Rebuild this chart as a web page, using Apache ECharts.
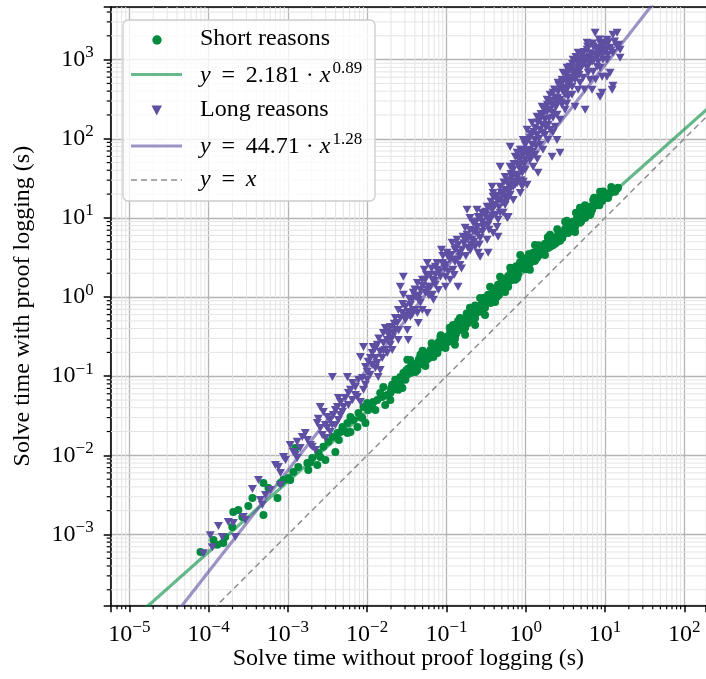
<!DOCTYPE html>
<html>
<head>
<meta charset="utf-8">
<script src="https://cdn.jsdelivr.net/npm/echarts@6/dist/echarts.min.js"></script>
<style>
  html, body { margin: 0; padding: 0; background: #ffffff; }
  #chart { width: 706px; height: 679px; }
</style>
</head>
<body>
<div id="chart"></div>
<script>
// Solve time with vs. without proof logging, in seconds: [without, with]
const shortReasons = [
  [7.9e-5,6.0e-4],[1.15e-4,8.5e-4],[1.29e-4,7.4e-4],[1.53e-4,7.8e-4],[1.62e-4,9.3e-4],[1.99e-4,1.24e-3],[2.05e-4,1.92e-3],[2.37e-4,2.04e-3],[2.66e-4,1.66e-3],[3.17e-4,2.29e-3],
  [3.57e-4,2.89e-3],[4.92e-4,4.47e-3],[4.92e-4,1.76e-3],[5.69e-4,3.87e-3],[7.39e-4,2.89e-3],[8.07e-4,4.47e-3],[8.81e-4,4.88e-3],[1.01e-3,5.18e-3],[1.07e-3,4.88e-3],[1.17e-3,6.17e-3],
  [1.24e-3,1.24e-2],[1.35e-3,7.14e-3],[1.76e-3,8.0e-3],[1.81e-3,6.54e-3],[1.92e-3,8.1e-3],[2.03e-3,9.26e-3],[2.35e-3,7.57e-3],[2.42e-3,1.07e-2],[2.56e-3,9.5e-3],[2.80e-3,1.28e-2],
  [2.97e-3,8.76e-3],[3.24e-3,1.48e-2],[3.64e-3,1.71e-2],[3.97e-3,1.10e-2],[4.21e-3,1.92e-2],[4.4e-3,1.56e-2],[4.59e-3,1.97e-2],[4.88e-3,2.28e-2],[5.16e-3,2.03e-2],[5.64e-3,2.56e-2],
  [5.64e-3,1.92e-2],[6.15e-3,3.06e-2],[6.15e-3,1.97e-2],[6.72e-3,2.80e-2],[7.54e-3,2.28e-2],[7.77e-3,3.43e-2],[8.22e-3,3.06e-2],[8.69e-3,2.97e-2],[8.99e-3,4.09e-2],[9.52e-3,2.56e-2],
  [1.0e-2,4.59e-2],[1.03e-2,3.74e-2],[1.16e-2,3.97e-2],[1.19e-2,4.72e-2],[1.27e-2,3.74e-2],[1.34e-2,5.0e-2],[1.46e-2,6.15e-2],[1.55e-2,5.47e-2],[1.60e-2,7.3e-2],[1.69e-2,4.33e-2],
  [1.79e-2,5.79e-2],[1.96e-2,6.15e-2],[2.07e-2,7.77e-2],[2.14e-2,6.72e-2],[2.26e-2,8.99e-2],[2.40e-2,8.22e-2],[2.47e-2,6.72e-2],[2.62e-2,9.78e-2],[2.78e-2,7.1e-2],[2.86e-2,0.110],
  [3.03e-2,8.99e-2],[3.21e-2,0.161],[3.21e-2,0.104],[3.51e-2,0.110],[3.71e-2,0.135],[3.82e-2,0.117],[4.05e-2,0.113],[4.30e-2,0.120],[4.42e-2,0.152],[4.69e-2,0.147],
  [4.97e-2,0.170],[5.12e-2,0.161],[5.42e-2,0.135],[5.75e-2,0.197],[5.93e-2,0.170],[6.28e-2,0.215],[6.66e-2,0.241],[6.85e-2,0.175],[7.26e-2,0.215],[7.70e-2,0.197],
  [7.93e-2,0.249],[8.41e-2,0.234],[8.91e-2,0.287],[9.17e-2,0.263],[9.72e-2,0.227],[0.102,0.314],[0.105,0.271],[0.111,0.352],[0.118,0.323],[0.121,0.444],
  [0.128,0.296],[0.136,0.373],[0.140,0.432],[0.148,0.384],[0.157,0.485],[0.162,0.514],[0.172,0.407],[0.182,0.545],[0.187,0.471],[0.198,0.514],
  [0.210,0.649],[0.223,0.578],[0.230,0.545],[0.243,0.751],[0.251,0.649],[0.266,0.708],[0.281,0.845],[0.298,0.773],[0.307,0.730],[0.326,0.922],
  [0.336,1.07],[0.355,0.975],[0.377,0.922],[0.388,1.23],[0.411,1.16],[0.435,1.01],[0.448,1.43],[0.475,1.35],[0.504,1.23],[0.519,1.65],
  [0.550,1.47],[0.584,1.51],[0.601,1.85],[0.637,1.80],[0.675,1.65],[0.696,2.02],[0.737,2.34],[0.781,2.21],[0.801,1.91],[0.853,2.70],
  [0.904,2.48],[0.931,2.34],[0.987,2.95],[1.04,2.95],[1.07,2.55],[1.13,2.70],[1.20,3.41],[1.24,3.62],[1.31,2.95],[1.39,3.13],
  [1.43,3.95],[1.51,3.62],[1.61,4.44],[1.65,3.72],[1.75,4.70],[1.86,4.84],[1.91,4.18],[2.03,4.31],[2.15,5.28],[2.27,5.59],
  [2.35,4.70],[2.48,4.98],[2.56,6.11],[2.71,6.47],[2.87,5.59],[2.96,6.11],[3.14,7.26],[3.32,7.70],[3.42,6.47],[3.62,7.06],
  [3.84,8.42],[3.96,8.92],[4.19,7.70],[4.45,10.3],[4.58,8.92],[4.84,8.66],[5.14,10.6],[5.30,11.6],[5.62,10.0],[5.95,12.7],
  [6.13,11.3],[6.48,13.8],[6.87,12.7],[7.09,16.9],[7.51,14.6],[7.95,15.5],[8.19,17.4],[8.67,18.5],[9.20,16.4],[9.45,19.0],
  [10.0,20.2],[10.6,19.6],[10.9,17.9],[11.6,20.7],[12.3,22.0],[12.6,22.6],[13.4,21.4],[14.6,24.0],
  [0.128,0.249],[0.172,0.333],[0.230,0.444],[0.307,0.595],[0.411,0.867],[0.550,1.16],[0.737,1.65],[1.13,2.21],[1.75,3.41],[2.71,5.13],
  [4.19,6.66],[6.48,10.9],[0.148,0.545],[0.198,0.730],[0.266,0.975],[0.355,1.35],[0.475,1.80],[0.637,2.34],[0.853,3.41],[1.31,4.56],
  [2.03,6.11],[3.14,8.92],[4.84,13.4],[8.67,21.4],[8.41e-2,0.314],[4.69e-2,0.186],[2.62e-2,7.77e-2],[1.96e-2,5.0e-2],
  [3.3e-2,0.125],[3.6e-2,0.148],[3.9e-2,0.131],[4.2e-2,0.140],[4.5e-2,0.165],[4.8e-2,0.150],[5.3e-2,0.182],[5.6e-2,0.160],[6.0e-2,0.190],[6.4e-2,0.180],
  [7.0e-2,0.232],[7.4e-2,0.205],[8.0e-2,0.270],[8.6e-2,0.250],[9.4e-2,0.300],[0.099,0.280],[0.108,0.330],[0.115,0.300],[0.124,0.370],[0.132,0.345],
  [0.144,0.410],[0.153,0.440],[0.166,0.470],[0.177,0.450],[0.193,0.560],[0.204,0.540],[0.216,0.600],[0.236,0.640],[0.257,0.700],[0.273,0.760],
  [0.290,0.810],[0.316,0.850],[0.345,0.960],[0.366,1.08],[0.400,1.08],[0.423,1.30],[0.461,1.25],[0.490,1.52],[0.530,1.40],[0.565,1.70],
  [0.620,1.62],[0.656,2.00],[0.716,1.92],[0.760,2.45],[0.826,2.25],[0.880,2.75],[0.958,2.60],[1.01,3.10],[1.10,2.92],[1.16,3.35],
  [1.27,3.25],[1.35,3.75],[1.47,3.40],[1.56,4.10],[1.70,4.05],[1.80,4.45],[1.97,4.75],[2.09,4.90],[2.21,5.10],[2.42,5.40],
  [2.63,5.75],[2.79,6.30],[3.05,6.60],[3.23,7.40],[3.52,7.40],[3.73,8.00],[4.07,8.40],[4.32,9.30],[4.71,9.50],[5.0,10.1],
  [5.46,11.0],[5.78,11.6],[6.30,12.2],[6.68,13.3],[7.30,14.2],[7.73,15.0],[8.43,16.0],[8.93,17.2],[9.73,18.0],[10.3,19.0],
  [11.2,20.4],[11.9,21.2],[13.0,22.2],[14.0,23.0],[2.0e-2,7.0e-2],[2.3e-2,7.5e-2],[2.5e-2,8.8e-2],[2.7e-2,9.2e-2],[2.9e-2,0.098],[3.1e-2,0.118],
  [0.03,0.095],[0.045,0.14],[0.06,0.17],[0.08,0.225],[0.1,0.27],[0.13,0.335],[0.17,0.415],[0.22,0.53],[0.28,0.65],[0.36,0.84],
  [0.46,1.06],[0.6,1.35],[0.78,1.74],[1.0,2.25],[1.3,2.85],[1.7,3.6],[2.2,4.5],[2.9,5.6],[3.8,7.0],[5.0,9.0],
  [6.6,11.4],[8.5,14.5],[11.0,18.5],
  [0.035,0.16],[0.05,0.21],[0.065,0.26],[0.085,0.33],[0.11,0.41],[0.14,0.5],[0.18,0.62],[0.23,0.78],[0.3,0.98],[0.39,1.25],
  [0.5,1.6],[0.65,2.1],[0.85,2.75],[1.1,3.5],[1.45,4.5],[1.9,5.7],[2.5,7.2],[3.3,9.2],[4.3,11.6],[5.6,14.5],
  [7.3,18.0],[9.5,21.5],[12.0,24.5]
];

const longReasons = [
  [8.6e-5,5.8e-4],[1.05e-4,9.8e-4],[1.11e-4,6.9e-4],[1.33e-4,1.28e-3],[1.49e-4,9.3e-4],[1.77e-4,1.44e-3],[2.05e-4,1.40e-3],[2.17e-4,9.3e-4],[2.74e-4,1.66e-3],[3.57e-4,3.76e-3],
  [4.25e-4,4.88e-3],[4.50e-4,2.73e-3],[5.21e-4,3.15e-3],[6.02e-4,3.65e-3],[6.97e-4,7.57e-3],[7.60e-4,7.14e-3],[8.07e-4,5.97e-3],[9.34e-4,8.76e-3],[1.07e-3,1.35e-2],[1.24e-3,1.01e-2],
  [1.31e-3,1.48e-2],[1.43e-3,1.24e-2],[1.66e-3,1.92e-2],[1.76e-3,1.56e-2],[2.03e-3,1.28e-2],[2.22e-3,1.17e-2],[2.35e-3,2.56e-2],[2.56e-3,2.22e-2],[2.80e-3,3.53e-2],[2.97e-3,2.42e-2],
  [3.64e-3,2.42e-2],[4.21e-3,4.09e-2],[4.59e-3,4.72e-2],[8.81e-4,9.5e-3],[1.17e-3,1.10e-2],[1.52e-3,1.71e-2],[2.42e-3,2.9e-2],[2.56e-3,4.09e-2],[3.14e-3,3.06e-2],[3.43e-3,2.80e-2],
  [3.64e-3,9.78e-2],[3.97e-3,3.74e-2],[4.33e-3,5.31e-2],[5.02e-3,4.09e-2],[5.64e-3,9.78e-2],[5.79e-3,6.15e-2],[6.52e-3,8.22e-2],[7.10e-3,7.30e-2],[7.54e-3,5.47e-2],[8.22e-3,4.72e-2],
  [8.22e-3,0.175],[8.99e-3,0.234],[9.52e-3,0.131],[1.03e-2,0.152],[1.16e-2,0.197],[1.27e-2,0.170],[1.38e-2,9.78e-2],[1.46e-2,0.120],[1.60e-2,0.263],[1.69e-2,0.407],
  [1.79e-2,0.287],[1.96e-2,0.419],[2.07e-2,0.215],[2.14e-2,0.352],[2.40e-2,0.471],[2.47e-2,0.287],[2.78e-2,0.631],[2.86e-2,1.80],[3.03e-2,0.751],[3.21e-2,0.384],
  [3.30e-2,0.287],[3.51e-2,0.562],[3.82e-2,0.688],[4.05e-2,1.01],[4.30e-2,1.51],[4.42e-2,0.471],[4.69e-2,0.845],[4.97e-2,0.688],[5.42e-2,1.13],[5.75e-2,2.70],
  [5.93e-2,1.35],[6.66e-2,1.65],[6.85e-2,0.922],[7.70e-2,2.21],[7.93e-2,1.23],[8.91e-2,2.70],[9.72e-2,1.80],[0.105,3.22],[8.99e-3,6.72e-2],[1.0e-2,0.113],
  [1.19e-2,0.234],[1.34e-2,0.147],[1.60e-2,0.352],[1.79e-2,0.197],[2.26e-2,0.545],[2.62e-2,1.35],[3.82e-2,1.13],[4.30e-2,0.631],[4.97e-2,1.65],[5.26e-2,2.21],
  [5.75e-2,0.631],[6.28e-2,1.35],[7.26e-2,1.43],[7.26e-2,2.41],[8.41e-2,1.80],[8.65e-2,3.95],[9.72e-2,1.35],[0.102,3.62],[0.111,1.65],[0.118,4.84],
  [0.128,2.78],[0.136,5.28],[0.140,1.35],[0.148,3.22],[0.162,5.76],[0.182,12.7],[0.187,4.18],[0.198,7.06],[0.217,8.66],[0.230,4.31],
  [0.251,10.3],[0.266,3.22],[0.290,7.70],[0.326,13.8],[0.336,3.62],[0.355,9.45],[0.388,6.47],[0.435,16.9],[0.448,5.76],[0.475,11.6],
  [0.519,20.7],[0.584,10.0],[0.637,24.7],[0.696,16.9],[0.781,27.7],[0.853,20.7],[0.931,28.6],[1.04,26.2],[0.136,2.95],[0.172,7.49],
  [0.205,4.56],[0.243,7.70],[0.251,3.62],[0.281,11.6],[0.326,5.28],[0.355,13.8],[0.388,20.7],[0.435,7.70],[0.475,24.7],[0.519,11.6],
  [0.550,33.0],[0.584,16.9],[0.601,10.3],[0.637,44.2],[0.696,24.7],[0.737,59.1],[0.781,33.0],[0.853,72.4],[0.904,37.1],[0.931,96.6],
  [0.987,54.2],[1.04,130],[1.13,72.4],[1.20,159],[1.24,44.2],[1.31,96.6],[1.39,190],[1.43,37.1],[1.51,130],[1.61,254],
  [1.65,72.4],[1.75,174],[1.86,311],[1.91,96.6],[2.03,232],[2.15,59.1],[2.21,381],[2.35,142],[2.48,285],[2.56,510],
  [2.71,174],[2.87,416],[2.96,683],[3.14,232],[3.32,557],[3.42,339],[3.62,814],[3.84,454],[3.96,1000],[4.19,254],
  [4.45,683],[4.58,1220],[4.84,510],[5.30,915],[5.62,232],[5.95,1330],[6.13,683],[6.48,1090],[6.87,416],[7.09,1460],
  [7.95,814],[8.67,1220],[9.20,608],[9.45,1630],[10.6,997],[11.6,683],[12.3,416],[12.6,1220],[14.2,1460],[15.5,1330],
  [7.51,2190],[5.95,1630],[8.67,1630],[10.6,1780],[12.6,2060],[14.2,2190],[15.0,1540],[15.5,1060],[12.6,468],[10.6,608],
  [8.67,339],[4.84,942],[3.84,746],[2.87,557],[2.48,96.6],[2.71,66.4],[0.637,79.1],[0.475,44.2],[0.377,24.7],[0.388,18.5],
  [0.781,66.4],[9.20,381],
  [0.307,10.9],[0.336,8.19],[0.377,12.7],[0.411,14.6],[0.448,9.45],[0.475,16.9],[0.504,19.6],[0.550,14.6],[0.550,22.6],[0.601,26.2],
  [0.637,19.6],[0.675,32.1],[0.696,40.5],[0.737,26.2],[0.801,46.8],[0.853,40.5],[0.853,54.2],[0.904,72.4],[0.987,83.9],[0.987,40.5],
  [1.07,62.6],[1.13,103],[1.13,54.2],[1.20,83.9],[1.31,138],[1.31,62.6],[1.39,112],[1.51,174],[1.51,83.9],[1.61,150],
  [1.65,201],[1.75,112],[1.86,219],[1.91,150],[2.03,360],[2.03,130],[2.15,269],[2.21,184],[2.35,330],[2.48,201],
  [2.56,393],[2.71,311],[2.87,269],[2.96,441],[3.14,360],[3.32,791],[3.42,482],[3.62,591],[3.84,360],[3.96,704],
  [4.19,557],[4.45,942],[4.58,416],[4.84,746],[5.14,1150],[5.30,591],[5.62,942],[5.95,791],[6.13,1060],[6.48,557],
  [6.87,942],[7.09,704],[7.51,1150],[7.95,1330],[8.19,942],[8.67,791],[9.45,997],[10.0,1260],[10.9,1150],[11.6,1410],
  [9.72e-2,2.55],[0.111,2.95],[0.121,2.21],[0.128,3.95],[0.140,4.56],[0.148,2.55],[0.157,3.95],[0.172,5.28],[0.182,6.11],[0.198,10.0],
  [0.210,5.28],[0.230,6.66],[0.243,12.7],[0.266,5.59],[0.281,8.92],[7.26e-2,1.91],[6.28e-2,1.91],[6.66e-2,1.07],[5.75e-2,1.23],[5.42e-2,1.65],
  [4.69e-2,1.23],[4.42e-2,0.922],[4.05e-2,0.688],[3.71e-2,0.922],[3.51e-2,0.796],[3.30e-2,0.649],[3.03e-2,0.514],[2.86e-2,1.07],[2.62e-2,0.545],[2.47e-2,0.688],
  [2.26e-2,0.384],[2.07e-2,0.305],[1.96e-2,0.249],[1.85e-2,0.333],[1.69e-2,0.215],[1.55e-2,0.170],[1.46e-2,0.203],[1.34e-2,0.249],[1.27e-2,0.127],[1.16e-2,0.139],
  [1.09e-2,0.104],[1.0e-2,8.99e-2],[9.52e-3,7.77e-2],[8.69e-3,9.52e-2],[7.77e-3,8.99e-2],[7.10e-3,5.79e-2],[6.52e-3,5.0e-2],[6.15e-3,6.72e-2],[5.79e-3,4.33e-2],[5.31e-3,5.31e-2],
  [4.88e-3,3.53e-2],[4.59e-3,3.24e-2],[4.33e-3,2.80e-2],[3.97e-3,2.42e-2],[3.74e-3,3.24e-2],[3.43e-3,1.97e-2],[3.14e-3,2.22e-2],[2.97e-3,1.66e-2],[2.72e-3,1.81e-2],
  [1.92e-3,1.35e-2],[1.31e-3,9.26e-3],[8.07e-4,4.22e-3],[4.76e-4,2.36e-3],[2.90e-4,1.52e-3],
  [0.105,2.1],[0.115,3.4],[0.125,1.9],[0.133,4.2],[0.145,3.6],[0.155,2.3],[0.165,4.8],[0.176,3.3],[0.19,5.6],[0.20,3.9],
  [0.215,6.9],[0.222,5.0],[0.238,9.0],[0.248,6.2],[0.26,4.6],[0.272,10.2],[0.285,6.7],[0.30,8.2],[0.315,12.0],[0.33,9.9],
  [0.345,7.1],[0.365,16.0],[0.38,10.6],[0.40,14.0],[0.42,11.0],[0.44,19.0],[0.46,13.5],[0.49,21.0],[0.51,15.8],[0.53,28.0],
  [0.56,18.5],[0.59,30.0],[0.62,22.0],[0.65,36.0],[0.68,28.5],[0.71,48.0],[0.75,35.0],[0.79,58.0],[0.83,44.0],[0.87,30.0],
  [0.92,62.0],[0.96,48.0],[1.01,70.0],[1.05,95.0],[1.10,58.0],[1.16,115],[1.22,68.0],[1.27,122],[1.35,80.0],[1.42,160],
  [1.47,100],[1.56,205],[1.63,120],[1.70,240],[1.80,140],[1.88,270],[1.97,180],[2.08,300],[2.18,215],[2.30,420],
  [2.40,250],[2.52,330],[2.62,470],[2.78,290],[2.92,520],[3.05,380],[3.20,650],[3.36,430],[3.50,720],[3.70,520],
  [3.90,880],[4.10,620],[4.30,1080],[4.50,800],[4.70,640],[4.95,1020],[5.20,860],[5.45,1250],[5.75,1020],[6.05,1450],
  [6.30,880],[6.65,1200],[7.00,1600],[7.30,1000],[7.75,1400],[8.05,1100],[8.45,1800],[8.90,1400],[9.30,1150],[9.80,1550],
  [10.3,1350],[11.0,1650],[11.9,1300],[13.2,1700],[3.30,280],[2.20,120],[1.40,55.0],[0.90,25.0],[5.50,420],[7.60,560],
  [1.1e-2,0.17],[1.25e-2,0.22],[1.4e-2,0.30],[1.6e-2,0.21],[1.8e-2,0.37],[2.0e-2,0.30],[2.2e-2,0.46],[2.5e-2,0.38],[2.8e-2,0.82],[3.1e-2,0.58],
  [3.4e-2,0.95],[3.7e-2,0.60],[4.0e-2,1.25],[4.5e-2,1.05],[5.0e-2,1.38],[5.6e-2,1.9],[6.0e-2,1.05],[6.5e-2,2.3],[7.0e-2,1.6],[7.6e-2,2.7],
  [8.2e-2,2.1],[9.0e-2,3.3],[9.5e-2,2.3]
];

// Power-law fits y = a * x^b
const shortFit = { a: 2.181, b: 0.89 };
const longFit = { a: 44.71, b: 1.28 };
const fitSpan = [1e-6, 1e3];

// Axis ranges (seconds)
const xRange = [5.82e-6, 188];
const yRange = [1.274e-4, 4624];

const FONT = '"Liberation Serif", "Times New Roman", serif';
const GREEN = '#008a3e';
const PURPLE = '#5e4fa2';
const GREEN_FIT = 'rgba(0,138,62,0.6)';
const PURPLE_FIT = 'rgba(94,79,162,0.6)';
const DASH_GREY = '#8f8f8f';
const MAJOR_GRID = '#b4b4b4';
const MINOR_GRID = '#e4e4e4';

// Minor tick positions: 2..9 times each power of ten
function minorValues(range) {
  const out = [];
  for (let e = -7; e <= 4; e++) {
    for (let m = 2; m <= 9; m++) {
      const v = m * Math.pow(10, e);
      if (v > range[0] && v < range[1]) out.push(v);
    }
  }
  return out;
}
const minorX = minorValues(xRange);
const minorY = minorValues(yRange);

const fitLine = f => fitSpan.map(x => [x, f.a * Math.pow(x, f.b)]);

function powerLabel(v) {
  const l = Math.log10(v);
  const e = Math.round(l);
  if (Math.abs(l - e) > 1e-6) return '';
  return '{m|10}{e|' + (e < 0 ? '\u2212' : '') + Math.abs(e) + '}';
}
const labelRich = {
  m: { fontFamily: FONT, fontSize: 24, color: '#000' },
  e: { fontFamily: FONT, fontSize: 17, color: '#000', padding: [0, 0, 14, 0] }
};

function minorRenderer(dir) {
  return function (params, api) {
    const cs = params.coordSys;
    if (dir === 'x') {
      const x = api.coord([api.value(0), yRange[0]])[0];
      if (x < cs.x + 1.5 || x > cs.x + cs.width - 0.5) return null;
      const yb = cs.y + cs.height;
      return { type: 'group', children: [
        { type: 'line', shape: { x1: x, y1: cs.y, x2: x, y2: yb }, style: { stroke: MINOR_GRID, lineWidth: 1 } },
        { type: 'line', shape: { x1: x, y1: yb, x2: x, y2: yb + 4 }, style: { stroke: '#000', lineWidth: 1.2 } }
      ] };
    }
    const y = api.coord([xRange[0], api.value(1)])[1];
    if (y < cs.y + 0.5 || y > cs.y + cs.height - 1.5) return null;
    return { type: 'group', children: [
      { type: 'line', shape: { x1: cs.x, y1: y, x2: cs.x + cs.width, y2: y }, style: { stroke: MINOR_GRID, lineWidth: 1 } },
      { type: 'line', shape: { x1: cs.x - 4, y1: y, x2: cs.x, y2: y }, style: { stroke: '#000', lineWidth: 1.2 } }
    ] };
  };
}

const chart = echarts.init(document.getElementById('chart'), null, { renderer: 'canvas' });

const legendText = { fontFamily: FONT, fontSize: 24, fill: '#000', align: 'left', verticalAlign: 'middle' };
const mathRich = {
  i: { fontFamily: FONT, fontSize: 24, fontStyle: 'italic', fill: '#000' },
  s: { fontFamily: FONT, fontSize: 17, fill: '#000', padding: [0, 0, 14, 2] }
};

chart.setOption({
  animation: false,
  backgroundColor: '#ffffff',
  textStyle: { fontFamily: FONT },
  grid: { left: 110.7, right: 0, top: 7, bottom: 73.7, containLabel: false, outerBoundsMode: 'none' },
  xAxis: [
    {
      type: 'log', logBase: 10, min: xRange[0], max: xRange[1], splitNumber: 8,
      position: 'bottom',
      name: 'Solve time without proof logging (s)', nameLocation: 'middle', nameGap: 41,
      nameMoveOverlap: false,
      nameTextStyle: { fontFamily: FONT, fontSize: 24, color: '#000' },
      axisLine: { show: true, onZero: false, lineStyle: { color: '#000', width: 1.6 } },
      axisTick: { show: true, inside: false, length: 7, lineStyle: { color: '#000', width: 1.5 } },
      axisLabel: { show: true, margin: 14, formatter: powerLabel, rich: labelRich, color: '#000' },
      splitLine: { show: true, lineStyle: { color: MAJOR_GRID, width: 1.3 } },
      minorTick: { show: false }, minorSplitLine: { show: false }
    },
    {
      type: 'log', logBase: 10, min: xRange[0], max: xRange[1], position: 'top',
      axisLine: { show: true, onZero: false, lineStyle: { color: '#000', width: 1.6 } },
      axisTick: { show: false }, axisLabel: { show: false }, splitLine: { show: false }
    }
  ],
  yAxis: {
    type: 'log', logBase: 10, min: yRange[0], max: yRange[1], splitNumber: 8,
    name: 'Solve time with proof logging (s)', nameLocation: 'middle', nameGap: 76,
    nameMoveOverlap: false,
    nameTextStyle: { fontFamily: FONT, fontSize: 24, color: '#000' },
    axisLine: { show: true, onZero: false, lineStyle: { color: '#000', width: 1.6 } },
    axisTick: { show: true, inside: false, length: 7, lineStyle: { color: '#000', width: 1.5 } },
    axisLabel: { show: true, margin: 17, formatter: powerLabel, rich: labelRich, color: '#000' },
    splitLine: { show: true, lineStyle: { color: MAJOR_GRID, width: 1.3 } },
    minorTick: { show: false }, minorSplitLine: { show: false }
  },
  series: [
    { type: 'custom', name: 'minor-x', silent: true, z: 1, data: minorX.map(v => [v, yRange[0]]), renderItem: minorRenderer('x') },
    { type: 'custom', name: 'minor-y', silent: true, z: 1, data: minorY.map(v => [xRange[0], v]), renderItem: minorRenderer('y') },
    { type: 'line', name: 'y = x', silent: true, z: 2, symbol: 'none', clip: true,
      data: fitSpan.map(x => [x, x]),
      lineStyle: { color: DASH_GREY, width: 1.5, type: [6, 4] } },
    { type: 'line', name: 'short fit', silent: true, z: 3, symbol: 'none', clip: true,
      data: fitLine(shortFit), lineStyle: { color: GREEN_FIT, width: 3.2 } },
    { type: 'line', name: 'long fit', silent: true, z: 3, symbol: 'none', clip: true,
      data: fitLine(longFit), lineStyle: { color: PURPLE_FIT, width: 3.2 } },
    { type: 'scatter', name: 'Short reasons', z: 4, symbol: 'circle', symbolSize: 8,
      data: shortReasons, itemStyle: { color: GREEN, opacity: 1 } },
    { type: 'scatter', name: 'Long reasons', z: 5, symbol: 'triangle', symbolRotate: 180, symbolSize: [9, 8],
      data: longReasons, itemStyle: { color: PURPLE, opacity: 1 } }
  ],
  graphic: [
    { type: 'rect', z: 100, shape: { x: 123, y: 20, width: 252, height: 181, r: 5 },
      style: { fill: 'rgba(255,255,255,0.8)', stroke: '#cccccc', lineWidth: 1.3 } },
    { type: 'circle', z: 101, shape: { cx: 157, cy: 40, r: 4.7 }, style: { fill: GREEN } },
    { type: 'text', z: 101, x: 200, y: 38.7, style: Object.assign({ text: 'Short reasons' }, legendText) },
    { type: 'line', z: 101, shape: { x1: 131, y1: 74.5, x2: 182, y2: 74.5 }, style: { stroke: GREEN_FIT, lineWidth: 3.2 } },
    { type: 'text', z: 101, x: 200, y: 76, style: Object.assign({ text: '{i|y} \u2009=\u2009 2.181 \u00b7 {i|x}{s|0.89}', rich: mathRich }, legendText) },
    { type: 'polygon', z: 101, shape: { points: [[151.5, 105.5], [162, 105.5], [156.7, 115.5]] }, style: { fill: PURPLE } },
    { type: 'text', z: 101, x: 200, y: 109.3, style: Object.assign({ text: 'Long reasons' }, legendText) },
    { type: 'line', z: 101, shape: { x1: 131, y1: 146, x2: 182, y2: 146 }, style: { stroke: PURPLE_FIT, lineWidth: 3.2 } },
    { type: 'text', z: 101, x: 200, y: 147, style: Object.assign({ text: '{i|y} \u2009=\u2009 44.71 \u00b7 {i|x}{s|1.28}', rich: mathRich }, legendText) },
    { type: 'line', z: 101, shape: { x1: 131, y1: 180, x2: 182, y2: 180 }, style: { stroke: DASH_GREY, lineWidth: 1.5, lineDash: [6, 4] } },
    { type: 'text', z: 101, x: 200, y: 179.7, style: Object.assign({ text: '{i|y} \u2009=\u2009 {i|x}', rich: mathRich }, legendText) }
  ]
});
</script>
</body>
</html>
